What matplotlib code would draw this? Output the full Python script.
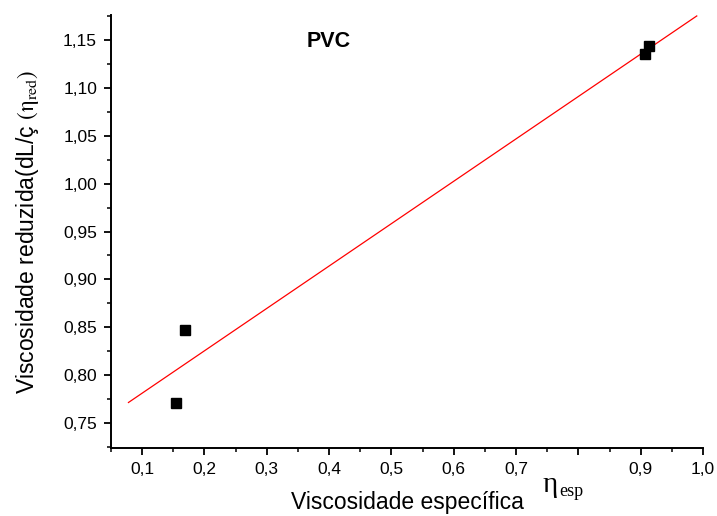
import numpy as np
import matplotlib
matplotlib.use("Agg")
import matplotlib.pyplot as plt
from matplotlib.ticker import MultipleLocator, FuncFormatter

plt.rcParams['font.family'] = ['Liberation Sans', 'DejaVu Sans']
plt.rcParams['mathtext.fontset'] = 'stix'

# Measured specific viscosity vs reduced viscosity for PVC
eta_esp = [0.154, 0.169, 0.907, 0.914]
eta_red = [0.771, 0.847, 1.135, 1.144]

# Fitted straight line (end points of the regression segment)
fit_x = [0.078, 0.990]
fit_y = [0.7715, 1.175]

x_ticks = [0.1, 0.2, 0.3, 0.4, 0.5, 0.6, 0.7, 0.8, 0.9, 1.0]
x_tick_labels = ['0,1', '0,2', '0,3', '0,4', '0,5', '0,6', '0,7', '', '0,9', '1,0']
y_ticks = [0.75, 0.80, 0.85, 0.90, 0.95, 1.00, 1.05, 1.10, 1.15]

W, H = 717, 516
fig = plt.figure(figsize=(W / 100, H / 100), dpi=100)
ax = fig.add_axes([111 / W, 1 - 448 / H, (703 - 111) / W, (448 - 15) / H])

ax.plot(fit_x, fit_y, color='red', lw=0.9, zorder=2)
ax.plot(eta_esp, eta_red, 's', color='black', ms=6.5, zorder=3)

ax.set_xlim(0.05, 1.0)
ax.set_ylim(0.724, 1.176)

ax.set_xticks(x_ticks)
ax.set_xticklabels(x_tick_labels)
ax.xaxis.set_minor_locator(MultipleLocator(0.05))
ax.set_yticks(y_ticks)
ax.yaxis.set_major_formatter(FuncFormatter(lambda v, p: f"{v:.2f}".replace('.', ',')))
ax.yaxis.set_minor_locator(MultipleLocator(0.025))

for s in ('top', 'right'):
    ax.spines[s].set_visible(False)
for s in ('left', 'bottom'):
    ax.spines[s].set_linewidth(1.4)

ax.tick_params(which='major', direction='out', length=5, width=1.3, labelsize=12.5, pad=5)
ax.tick_params(which='minor', direction='out', length=3, width=1.1)

ax.set_xlabel('Viscosidade específica', fontsize=16.5, labelpad=10.5)
ax.set_ylabel(r'Viscosidade reduzida(dL/ç $(\mathrm{\eta}_{\rm red})$', fontsize=16.5, labelpad=16)

# eta_esp symbol beside the x tick labels
fig.text(558 / W, 1 - 492 / H, 'η', fontsize=21, family='Liberation Serif',
         ha='right', va='baseline')
fig.text(559 / W, 1 - 496 / H, 'esp', fontsize=13, family='Liberation Serif',
         ha='left', va='baseline')

ax.text(0.40, 1.148, 'PVC', fontsize=15.5, fontweight='bold', ha='center', va='center')

fig.savefig('out.png', dpi=100)
